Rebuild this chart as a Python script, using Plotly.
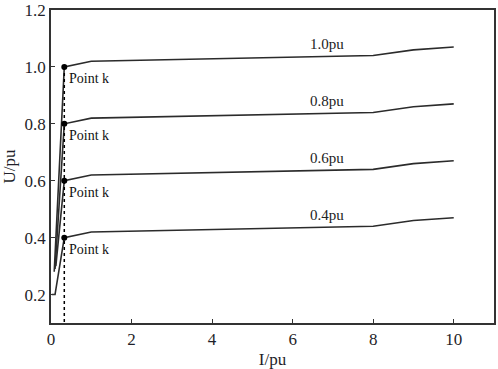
import plotly.graph_objects as go

# Data
levels = ["1.0pu", "0.8pu", "0.6pu", "0.4pu"]
x_10 = [0.08, 0.33, 1.0, 8.0, 9.0, 10.0]
y_10 = [0.28, 1.00, 1.02, 1.04, 1.06, 1.07]
x_08 = [0.10, 0.33, 1.0, 8.0, 9.0, 10.0]
y_08 = [0.29, 0.80, 0.82, 0.84, 0.86, 0.87]
x_06 = [0.12, 0.33, 1.0, 8.0, 9.0, 10.0]
y_06 = [0.30, 0.60, 0.62, 0.64, 0.66, 0.67]
x_04 = [0.02, 0.10, 0.33, 1.0, 8.0, 9.0, 10.0]
y_04 = [0.20, 0.20, 0.40, 0.42, 0.44, 0.46, 0.47]
k_x = [0.33, 0.33, 0.33, 0.33]
k_y = [1.0, 0.8, 0.6, 0.4]
label_x = [6.85, 6.85, 6.85, 6.85]
label_y = [1.08, 0.88, 0.68, 0.48]
x_ticks = [0, 2, 4, 6, 8, 10]
y_ticks = [0.2, 0.4, 0.6, 0.8, 1.0, 1.2]

LINE = "#2b2b2b"
FONT = "Liberation Serif"
TXT = "#1f1f2a"

fig = go.Figure()
for xs, ys in [(x_10, y_10), (x_08, y_08), (x_06, y_06), (x_04, y_04)]:
    fig.add_trace(go.Scatter(x=xs, y=ys, mode="lines",
                             line=dict(color=LINE, width=1.6), showlegend=False,
                             hoverinfo="skip"))

# dotted vertical line at point k
fig.add_trace(go.Scatter(x=[k_x[0], k_x[0]], y=[max(k_y), 0.1], mode="lines",
                         line=dict(color="black", width=1.5, dash="dot"),
                         showlegend=False, hoverinfo="skip"))
fig.add_trace(go.Scatter(x=k_x, y=k_y, mode="markers",
                         marker=dict(color="black", size=6), showlegend=False,
                         hoverinfo="skip"))

for xx, yy in zip(k_x, k_y):
    fig.add_annotation(x=xx, y=yy, text="Point k", showarrow=False,
                       xanchor="left", yanchor="top", xshift=3, yshift=-2,
                       font=dict(family=FONT, size=14, color="#111"))

for t, xx, yy in zip(levels, label_x, label_y):
    fig.add_annotation(x=xx, y=yy, text=t, showarrow=False,
                       xanchor="center", yanchor="middle",
                       font=dict(family=FONT, size=15, color="#222"))

axis_common = dict(showgrid=False, zeroline=False, showline=True, mirror=True,
                   linecolor="#333", linewidth=1.5, ticks="inside", ticklen=4,
                   tickcolor="#333", automargin=False,
                   tickfont=dict(family=FONT, size=17, color=TXT))

fig.update_xaxes(range=[0, 11], tickvals=x_ticks,
                 ticktext=[str(v) for v in x_ticks],
                 title=dict(text="I/pu", font=dict(family=FONT, size=17, color=TXT)),
                 **axis_common)
fig.update_yaxes(range=[0.1, 1.2], tickvals=y_ticks,
                 ticktext=[f"{v:.1f}" for v in y_ticks],
                 title=dict(text="U/pu", font=dict(family=FONT, size=17, color=TXT)),
                 **axis_common)

fig.update_layout(width=498, height=369, plot_bgcolor="white", paper_bgcolor="white",
                  margin=dict(l=51, r=4, t=10, b=46))

# remove the page's default body margin so the figure fills the window exactly
fig.write_html("out.html", config={"displayModeBar": False},
               post_script="document.body.style.margin='0';document.body.style.overflow='hidden';")
